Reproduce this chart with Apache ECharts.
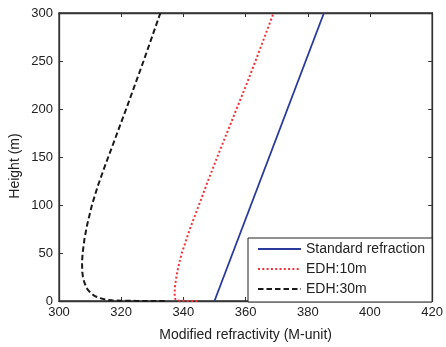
<!DOCTYPE html>
<html>
<head>
<meta charset="utf-8">
<script src="https://cdn.jsdelivr.net/npm/echarts@6/dist/echarts.min.js"></script>
<style>
html,body{margin:0;padding:0;background:#fff;}
#chart{width:446px;height:347px;}
</style>
</head>
<body>
<div id="chart"></div>
<script>
// ---- data ----
var seriesNames = ['Standard refraction', 'EDH:10m', 'EDH:30m'];

var stdHeight = [0, 300];
var stdM      = [350, 385.2];

var edh10Height = [0, 0.05, 0.2, 0.5, 1, 2, 5, 10, 15, 20, 30, 40, 50, 75, 100, 125, 150, 175, 200, 225, 250, 275, 300];
var edh10M      = [344.5, 341.5, 339.5, 338.3, 337.8, 337.4, 337.2, 337.2, 337.3, 337.5, 338.0, 338.7, 339.5, 342.1, 345.0, 347.9, 350.9, 354.0, 357.1, 360.2, 363.2, 366.1, 369.0];

var edh30Height = [0, 0.1, 0.3, 0.7, 1.5, 3, 5, 8, 12, 15, 20, 25, 30, 40, 50, 65, 80, 100, 120, 140, 160, 180, 200, 225, 250, 275, 300];
var edh30M      = [334.0, 325.0, 320.0, 317.0, 315.0, 313.2, 311.6, 310.3, 309.2, 308.7, 308.1, 307.7, 307.5, 307.4, 307.6, 308.2, 309.1, 310.6, 312.5, 314.7, 317.0, 319.3, 321.6, 324.4, 327.2, 329.9, 332.6];

var xTicks = {min: 300, max: 420, step: 20};
var yTicks = {min: 0, max: 300, step: 50};

function pairs(xs, ys) { return ys.map(function (h, i) { return [xs[i], h]; }); }

var FONT = '"Liberation Sans", Arial, Helvetica, sans-serif';
var AX = '#333333';

var chart = echarts.init(document.getElementById('chart'), null, {renderer: 'canvas'});
function mirrorAxis(extra) {
  return Object.assign({
    type: 'value',
    axisLine: {show: true, onZero: false, lineStyle: {color: AX, width: 1.3}},
    axisTick: {show: true, inside: true, length: 4, lineStyle: {color: AX}},
    axisLabel: {show: false},
    splitLine: {show: false}
  }, extra);
}
chart.setOption({
  animation: false,
  backgroundColor: '#fff',
  grid: {left: 59, right: 10, top: 13, bottom: 39, containLabel: false,
         show: true, borderColor: AX, borderWidth: 1.3, backgroundColor: 'transparent'},
  xAxis: [{
    type: 'value', position: 'bottom',
    min: xTicks.min, max: xTicks.max, interval: xTicks.step,
    name: 'Modified refractivity (M-unit)', nameLocation: 'middle', nameGap: 27,
    nameTextStyle: {fontFamily: FONT, fontSize: 14, color: '#222'},
    axisLine: {show: true, onZero: false, lineStyle: {color: AX, width: 1.3}},
    axisTick: {show: true, inside: true, length: 4, lineStyle: {color: AX}},
    axisLabel: {fontFamily: FONT, fontSize: 13, color: '#222', margin: 5},
    splitLine: {show: false}
  }, mirrorAxis({position: 'top', min: xTicks.min, max: xTicks.max, interval: xTicks.step})],
  yAxis: [{
    type: 'value', position: 'left',
    min: yTicks.min, max: yTicks.max, interval: yTicks.step,
    axisLine: {show: true, onZero: false, lineStyle: {color: AX, width: 1.3}},
    axisTick: {show: true, inside: true, length: 4, lineStyle: {color: AX}},
    axisLabel: {fontFamily: FONT, fontSize: 13, color: '#222', margin: 6},
    splitLine: {show: false}
  }, mirrorAxis({position: 'right', min: yTicks.min, max: yTicks.max, interval: yTicks.step})],
  graphic: [{
    type: 'text', x: 15, y: 166, rotation: Math.PI / 2,
    style: {text: 'Height (m)', font: '14px ' + FONT, fill: '#222', align: 'center', verticalAlign: 'middle'}
  }],
  legend: {
    orient: 'vertical', left: 248, top: 238,
    width: 182,
    data: seriesNames,
    backgroundColor: '#fff', borderColor: '#222', borderWidth: 1, borderRadius: 0,
    padding: [4, 7, 6, 9],
    itemWidth: 43, itemHeight: 14, itemGap: 6,
    itemStyle: {opacity: 0},
    textStyle: {fontFamily: FONT, fontSize: 14, color: '#222'}
  },
  series: [{
    name: seriesNames[0], type: 'line', symbol: 'none',
    data: pairs(stdM, stdHeight),
    lineStyle: {color: '#2a3a9c', width: 1.8, type: 'solid'},
    itemStyle: {color: '#2a3a9c'}
  }, {
    name: seriesNames[1], type: 'line', symbol: 'none', smooth: false,
    data: pairs(edh10M, edh10Height),
    lineStyle: {color: '#f0333a', width: 2, type: [2, 2.3]},
    itemStyle: {color: '#f0333a'}
  }, {
    name: seriesNames[2], type: 'line', symbol: 'none', smooth: false,
    data: pairs(edh30M, edh30Height),
    lineStyle: {color: '#1a1a1a', width: 2, type: [5.5, 3]},
    itemStyle: {color: '#1a1a1a'}
  }]
});
</script>
</body>
</html>
